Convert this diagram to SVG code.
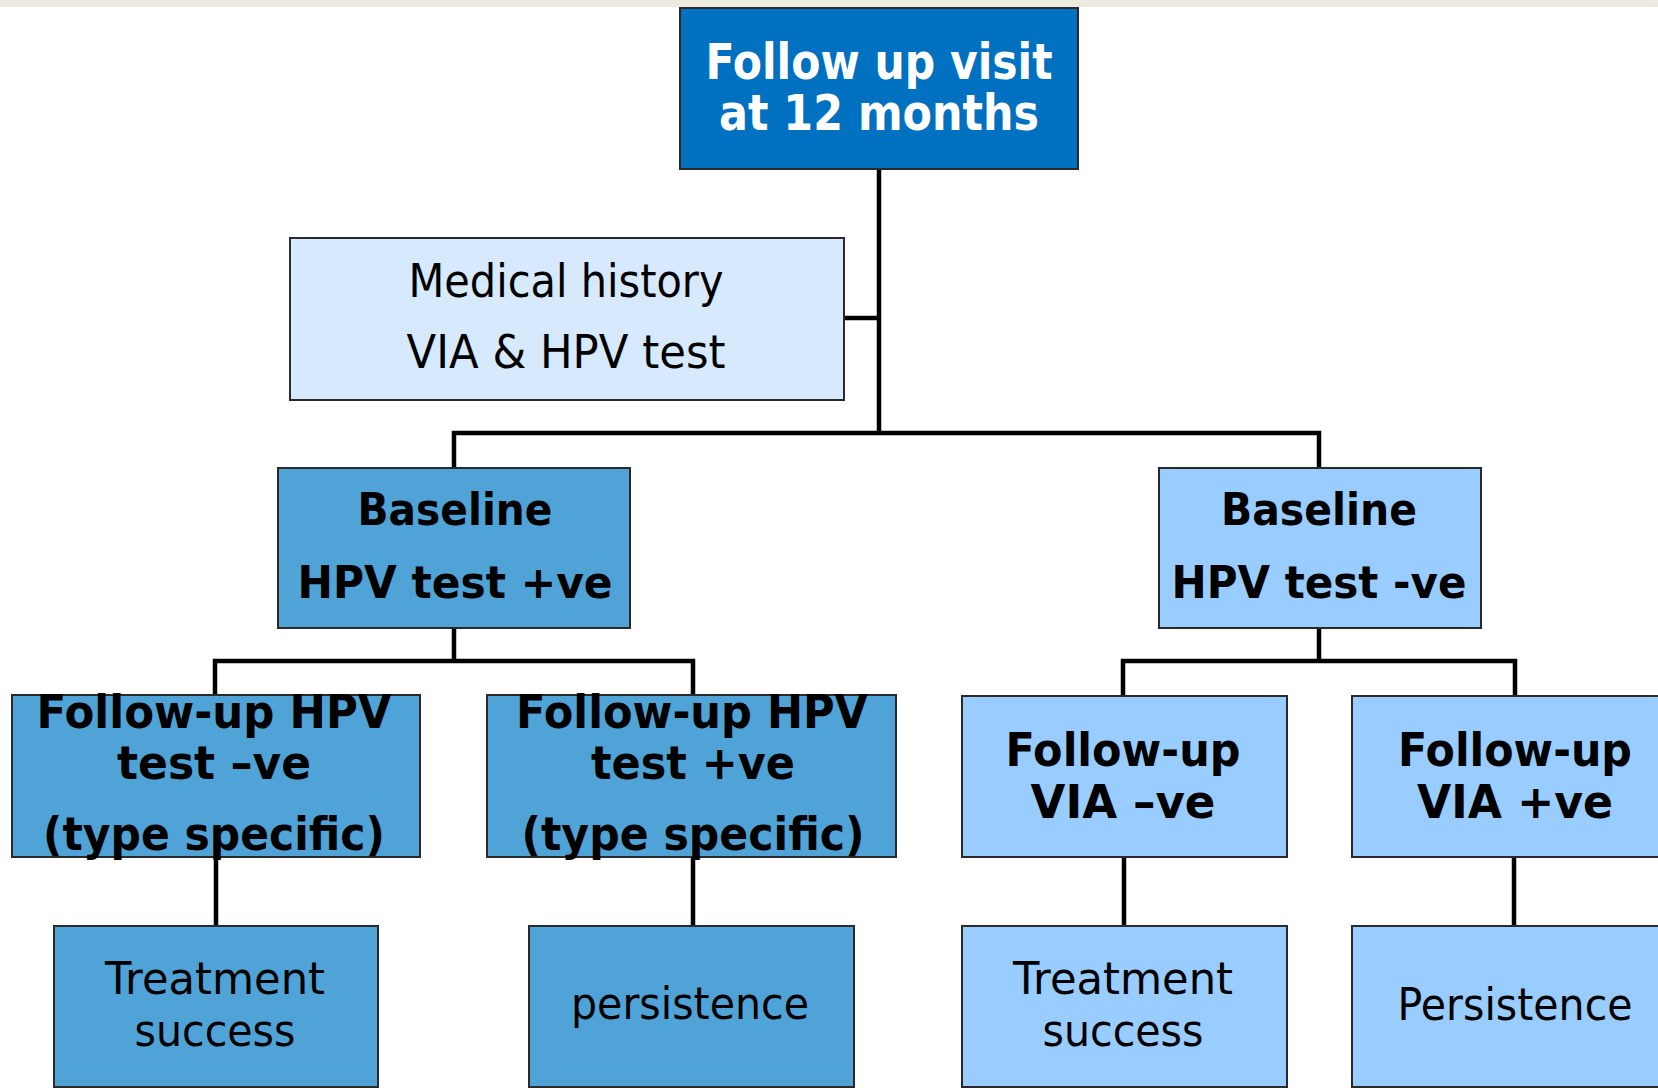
<svg xmlns="http://www.w3.org/2000/svg" width="1658" height="1088" viewBox="0 0 1658 1088">
<style>
.box{stroke:#2a2a2a;stroke-width:2}
.top{fill:#0070C0}
.med{fill:#D6E9FD}
.dark{fill:#50A3D6}
.light{fill:#99CCFF}
.conn{stroke:#000;stroke-width:4.5;fill:none;stroke-linecap:square}
text{font-family:"DejaVu Sans","Liberation Sans",sans-serif;text-anchor:middle}
.b{font-weight:bold;fill:#000}
.r{font-weight:normal;fill:#000}
.w{font-weight:bold;fill:#fff}
</style>
<rect x="0" y="0" width="1658" height="1088" fill="#fff"/>
<rect x="0" y="0" width="1658" height="7" fill="#EDEAE0"/>
<g id="connectors">
<path class="conn" d="M879 169V433M844 318H879M454 433H1319M454 433V468M1319 433V468"/>
<path class="conn" d="M454 628V661M215 661H693M215 661V695M693 661V695"/>
<path class="conn" d="M1319 628V661M1123 661H1515M1123 661V696M1515 661V696"/>
<path class="conn" d="M216 857V926M693 857V926M1124 857V926M1514 857V926"/>
</g>
<g id="n-top">
<rect class="box top" x="680" y="8" width="398" height="161"/>
<text class="w" x="879" y="79" font-size="49" textLength="347" lengthAdjust="spacingAndGlyphs">Follow up visit</text>
<text class="w" x="879" y="130" font-size="49" textLength="320" lengthAdjust="spacingAndGlyphs">at 12 months</text>
</g>
<g id="n-med">
<rect class="box med" x="290" y="238" width="554" height="162"/>
<text class="r" x="566" y="297" font-size="46" textLength="315" lengthAdjust="spacingAndGlyphs">Medical history</text>
<text class="r" x="566" y="368" font-size="46" textLength="319" lengthAdjust="spacingAndGlyphs">VIA &amp; HPV test</text>
</g>
<g id="n-base-pos">
<rect class="box dark" x="278" y="468" width="352" height="160"/>
<text class="b" x="455" y="525" font-size="45" textLength="195" lengthAdjust="spacingAndGlyphs">Baseline</text>
<text class="b" x="455" y="598" font-size="45" textLength="315" lengthAdjust="spacingAndGlyphs">HPV test +ve</text>
</g>
<g id="n-base-neg">
<rect class="box light" x="1159" y="468" width="322" height="160"/>
<text class="b" x="1319" y="525" font-size="45" textLength="196" lengthAdjust="spacingAndGlyphs">Baseline</text>
<text class="b" x="1319" y="598" font-size="45" textLength="295" lengthAdjust="spacingAndGlyphs">HPV test -ve</text>
</g>
<g id="n-fu-hpv-neg">
<rect class="box dark" x="12" y="695" width="408" height="162"/>
<text class="b" x="214" y="728" font-size="46" textLength="355" lengthAdjust="spacingAndGlyphs">Follow-up HPV</text>
<text class="b" x="214" y="779" font-size="46" textLength="194" lengthAdjust="spacingAndGlyphs">test –ve</text>
<text class="b" x="214" y="850" font-size="46" textLength="342" lengthAdjust="spacingAndGlyphs">(type specific)</text>
</g>
<g id="n-fu-hpv-pos">
<rect class="box dark" x="487" y="695" width="409" height="162"/>
<text class="b" x="692" y="728" font-size="46" textLength="352" lengthAdjust="spacingAndGlyphs">Follow-up HPV</text>
<text class="b" x="693" y="779" font-size="46" textLength="204" lengthAdjust="spacingAndGlyphs">test +ve</text>
<text class="b" x="693" y="850" font-size="46" textLength="343" lengthAdjust="spacingAndGlyphs">(type specific)</text>
</g>
<g id="n-fu-via-neg">
<rect class="box light" x="962" y="696" width="325" height="161"/>
<text class="b" x="1123" y="766" font-size="47" textLength="235" lengthAdjust="spacingAndGlyphs">Follow-up</text>
<text class="b" x="1123" y="818" font-size="47" textLength="185" lengthAdjust="spacingAndGlyphs">VIA –ve</text>
</g>
<g id="n-fu-via-pos">
<rect class="box light" x="1352" y="696" width="330" height="161"/>
<text class="b" x="1515" y="766" font-size="47" textLength="234" lengthAdjust="spacingAndGlyphs">Follow-up</text>
<text class="b" x="1515" y="818" font-size="47" textLength="196" lengthAdjust="spacingAndGlyphs">VIA +ve</text>
</g>
<g id="n-ts-left">
<rect class="box dark" x="54" y="926" width="324" height="161"/>
<text class="r" x="215" y="994" font-size="44" textLength="220" lengthAdjust="spacingAndGlyphs">Treatment</text>
<text class="r" x="215" y="1046" font-size="44" textLength="161" lengthAdjust="spacingAndGlyphs">success</text>
</g>
<g id="n-pers-left">
<rect class="box dark" x="529" y="926" width="325" height="161"/>
<text class="r" x="690" y="1019" font-size="44" textLength="238" lengthAdjust="spacingAndGlyphs">persistence</text>
</g>
<g id="n-ts-right">
<rect class="box light" x="962" y="926" width="325" height="161"/>
<text class="r" x="1123" y="994" font-size="44" textLength="220" lengthAdjust="spacingAndGlyphs">Treatment</text>
<text class="r" x="1123" y="1046" font-size="44" textLength="161" lengthAdjust="spacingAndGlyphs">success</text>
</g>
<g id="n-pers-right">
<rect class="box light" x="1352" y="926" width="330" height="161"/>
<text class="r" x="1515" y="1020" font-size="44" textLength="235" lengthAdjust="spacingAndGlyphs">Persistence</text>
</g>
</svg>
